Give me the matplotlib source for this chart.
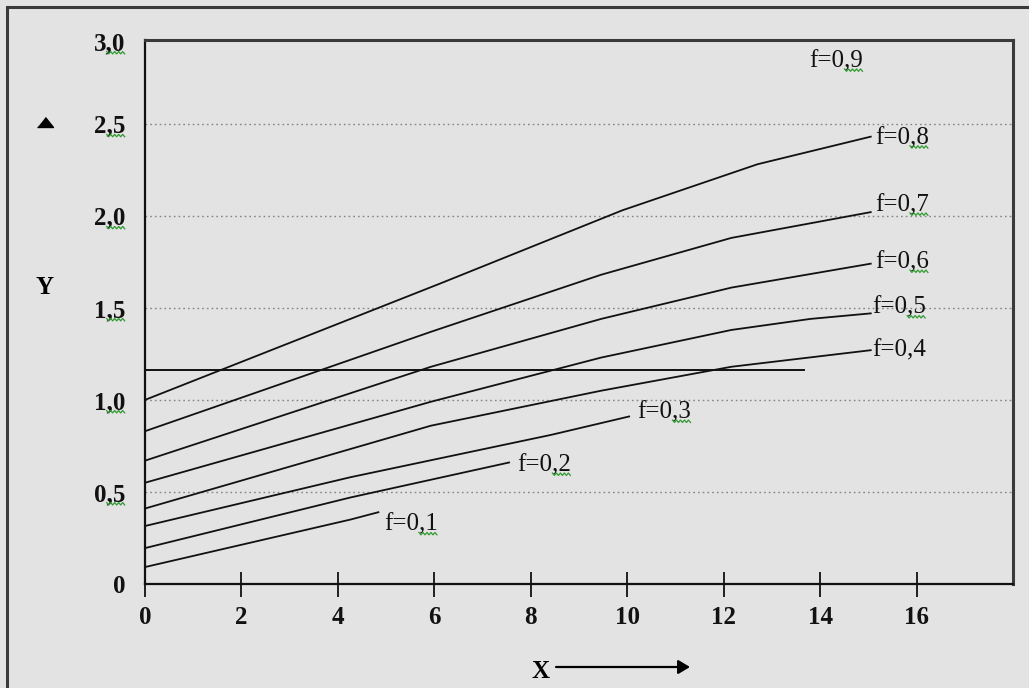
import matplotlib
matplotlib.use("Agg")
import matplotlib.pyplot as plt
from matplotlib.lines import Line2D
from matplotlib.patches import Rectangle
from matplotlib.transforms import IdentityTransform
import numpy as np

plt.rcParams['font.family'] = ['Liberation Serif', 'DejaVu Serif']

# curves (x, y) for each f
x01 = [0, 4.26, 4.84]
y01 = [0.092, 0.35, 0.39]
x02 = [0, 4.26, 7.55]
y02 = [0.195, 0.47, 0.66]
x03 = [0, 4.26, 8.42, 10.04]
y03 = [0.315, 0.58, 0.81, 0.91]
x04 = [0, 5.93, 9.46, 12.16, 15.05]
y04 = [0.41, 0.86, 1.05, 1.18, 1.27]
x05 = [0, 5.93, 9.46, 12.16, 13.8, 15.05]
y05 = [0.55, 0.99, 1.23, 1.38, 1.44, 1.47]
x06 = [0, 5.93, 9.46, 12.16, 15.05]
y06 = [0.67, 1.18, 1.44, 1.61, 1.74]
x07 = [0, 5.93, 9.46, 12.16, 15.05]
y07 = [0.83, 1.37, 1.68, 1.88, 2.02]
x08 = [0, 6.1, 9.9, 12.7, 15.05]
y08 = [1.00, 1.63, 2.03, 2.28, 2.43]

curves = [(x01, y01), (x02, y02), (x03, y03), (x04, y04),
          (x05, y05), (x06, y06), (x07, y07), (x08, y08)]
labels = ["f=0,1", "f=0,2", "f=0,3", "f=0,4", "f=0,5", "f=0,6", "f=0,7", "f=0,8"]
label_off = [(4, -9), (6, -2), (6, 3), (1, 0), (1, 4), (3, 1), (3, 5), (3, -1)]

f09_label = "f=0,9"
f09_pos = (13.78, 2.84)

hline_y = 1.16
hline_x = [0, 13.66]

grid_levels = [0.5, 1.0, 1.5, 2.0, 2.5]
xticks = [0, 2, 4, 6, 8, 10, 12, 14, 16]
yticks = [0, 0.5, 1.0, 1.5, 2.0, 2.5, 2.95]
ytick_labels = ["0", "0,5", "1,0", "1,5", "2,0", "2,5", "3,0"]

bg = '#e3e3e3'
W, H = 1029, 688
fig = plt.figure(figsize=(W / 100, H / 100), dpi=100, facecolor=bg)
ax = fig.add_axes([145 / W, 1 - 584 / H, (1013 - 145) / W, (584 - 40) / H])
ax.set_facecolor(bg)

for g in grid_levels:
    ax.axhline(g, color='#858585', ls=(0, (1.2, 2.2)), lw=1.0, zorder=1)

for (xs, ys), lab, off in zip(curves, labels, label_off):
    ax.plot(xs, ys, color='#111111', lw=1.3, zorder=3)
    ax.annotate(lab, xy=(xs[-1], ys[-1]), xytext=off, textcoords='offset points',
                ha='left', va='center', fontsize=18, color='#111111')

ax.text(f09_pos[0], f09_pos[1], f09_label, ha='left', va='center', fontsize=18, color='#111111')
ax.plot(hline_x, [hline_y, hline_y], color='#111111', lw=1.4, zorder=3)

ax.set_xlim(0, 18.0)
ax.set_ylim(0, 2.955)
ax.set_xticks(xticks)
ax.set_xticklabels([str(v) for v in xticks], fontsize=18, fontweight='bold')
ax.set_yticks(yticks)
ax.set_yticklabels(ytick_labels, fontsize=18, fontweight='bold')
ax.tick_params(axis='x', direction='inout', length=18, width=1.3, pad=7, colors='#111111')
ax.tick_params(axis='y', length=0, pad=14, colors='#111111')

for s in ['left', 'bottom']:
    ax.spines[s].set_linewidth(1.6)
    ax.spines[s].set_color('#111111')
for s in ['top', 'right']:
    ax.spines[s].set_linewidth(2.2)
    ax.spines[s].set_color('#3a3a3a')

# axis names
fig.text(45 / W, 1 - 287 / H, "Y", ha='center', va='center', fontsize=18, fontweight='bold')
tri = [(-8, -5), (8, -5), (0, 5)]
fig.add_artist(Line2D([45 / W], [1 - 122 / H], transform=fig.transFigure, marker=tri,
                      ms=11.5, color='k', ls='none'))
fig.text(540 / W, 1 - 671 / H, "X", ha='center', va='center', fontsize=18, fontweight='bold')
fig.add_artist(matplotlib.patches.FancyArrowPatch(
    (556 / W, 1 - 667 / H), (690 / W, 1 - 667 / H), transform=fig.transFigure,
    arrowstyle='-|>,head_length=0.5,head_width=0.3', mutation_scale=14,
    lw=1.6, color='k', shrinkA=0, shrinkB=0))

# page frame
fig.add_artist(Rectangle((7 / W, -0.05), 1.2, 1.05 - 7 / H, transform=fig.transFigure,
                         fill=False, lw=2.2, ec='#3a3a3a'))

# green spell-check squiggles under ",digit"
fig.canvas.draw()
renderer = fig.canvas.get_renderer()
marked = [t for t in ax.texts if ',' in t.get_text() and t.get_text() != "f=0,4"]
marked += [t for t in ax.get_yticklabels() if ',' in t.get_text()]
for t in marked:
    txt = t.get_text()
    pre = txt[:txt.index(',')]
    bb = t.get_window_extent(renderer)
    wpre, _, _ = renderer.get_text_width_height_descent(pre, t.get_fontproperties(), ismath=False)
    _, _, desc = renderer.get_text_width_height_descent(txt, t.get_fontproperties(), ismath=False)
    x0, x1 = bb.x0 + wpre, bb.x1
    ybase = bb.y0 + desc - 1.5
    xs = np.arange(x0, x1 + 0.1, 2.0)
    ys = ybase + np.where(np.arange(len(xs)) % 2 == 0, 1.2, -1.2)
    fig.add_artist(Line2D(xs, ys, transform=IdentityTransform(), color='#2f9a2f', lw=0.9))

fig.savefig("out.png", dpi=100, facecolor=bg)
